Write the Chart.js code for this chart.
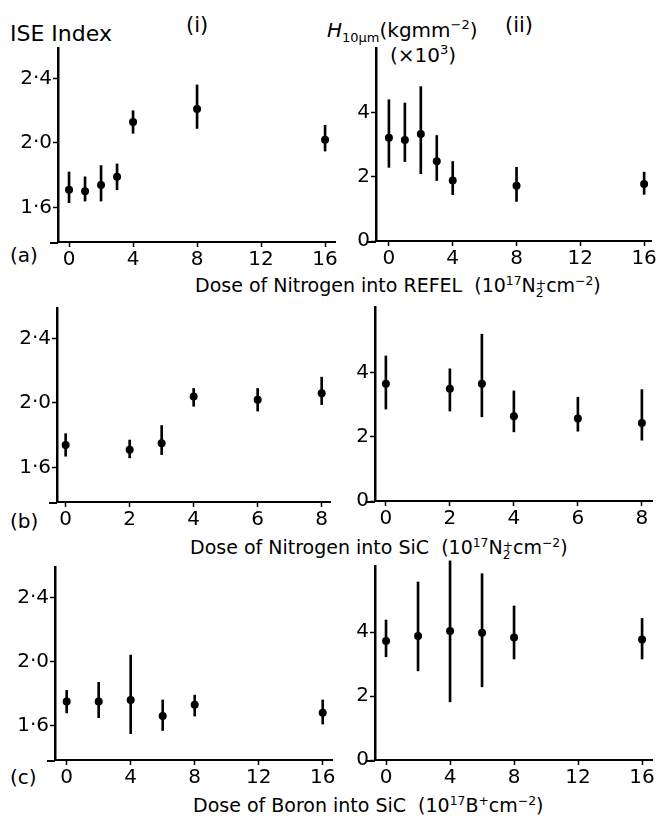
<!DOCTYPE html>
<html><head><meta charset="utf-8">
<script src="https://cdn.jsdelivr.net/npm/chart.js@4.4.0/dist/chart.umd.min.js"></script>
<style>
html,body{margin:0;padding:0;background:#fff;}
body{width:657px;height:823px;position:relative;overflow:hidden;font-family:'DejaVu Sans',sans-serif;color:#000;}
.box{position:absolute;}
.t{position:absolute;white-space:nowrap;line-height:1;}
sup,sub{font-size:65%;line-height:0;}
.ss{display:inline-block;vertical-align:-0.42em;line-height:0.72;font-size:65%;}
.ss span{display:block;}
</style></head><body>

<div class="t" style="left:10px;top:23px;font-size:22px;">ISE Index</div>
<div class="t" style="left:186px;top:15px;font-size:21px;">(i)</div>
<div class="t" style="left:505px;top:15px;font-size:21px;">(ii)</div>
<div class="t" style="left:327px;top:20px;font-size:20px;"><i>H</i><sub>10µm</sub>(kgmm<sup>−2</sup>)</div>
<div class="t" style="left:390px;top:45px;font-size:20px;">(×10<sup>3</sup>)</div>

<div class="t" style="left:10px;top:245px;font-size:20px;">(a)</div>
<div class="t" style="left:10px;top:511px;font-size:20px;">(b)</div>
<div class="t" style="left:10px;top:767px;font-size:20px;">(c)</div>

<div class="t" style="left:195px;top:276px;font-size:19px;">Dose of Nitrogen into REFEL&nbsp;&nbsp;(10<sup>17</sup>N<span class="ss"><span>+</span><span>2</span></span>cm<sup>−2</sup>)</div>
<div class="t" style="left:190px;top:538px;font-size:19px;">Dose of Nitrogen into SiC&nbsp;&nbsp;(10<sup>17</sup>N<span class="ss"><span>+</span><span>2</span></span>cm<sup>−2</sup>)</div>
<div class="t" style="left:193px;top:796px;font-size:19px;">Dose of Boron into SiC&nbsp;&nbsp;(10<sup>17</sup>B<sup>+</sup>cm<sup>−2</sup>)</div>

<script>
// ---- data ----
const doseA = [0, 1, 2, 3, 4, 8, 16];
const iseA   = [1.71, 1.70, 1.74, 1.79, 2.13, 2.21, 2.02];
const iseALo = [1.63, 1.64, 1.64, 1.71, 2.06, 2.09, 1.95];
const iseAHi = [1.82, 1.79, 1.86, 1.87, 2.20, 2.36, 2.11];
const hA   = [3.21, 3.14, 3.33, 2.48, 1.88, 1.72, 1.77];
const hALo = [2.29, 2.47, 2.09, 1.88, 1.44, 1.23, 1.45];
const hAHi = [4.39, 4.29, 4.80, 3.28, 2.47, 2.29, 2.14];

const doseB = [0, 2, 3, 4, 6, 8];
const iseB   = [1.74, 1.71, 1.75, 2.04, 2.02, 2.06];
const iseBLo = [1.67, 1.66, 1.68, 1.98, 1.95, 1.99];
const iseBHi = [1.81, 1.77, 1.86, 2.09, 2.09, 2.16];
const hB   = [3.66, 3.51, 3.66, 2.65, 2.58, 2.44];
const hBLo = [2.87, 2.81, 2.63, 2.16, 2.18, 1.90];
const hBHi = [4.53, 4.13, 5.21, 3.44, 3.24, 3.48];

const doseC = [0, 2, 4, 6, 8, 16];
const iseC   = [1.75, 1.75, 1.76, 1.66, 1.73, 1.68];
const iseCLo = [1.68, 1.65, 1.55, 1.57, 1.66, 1.61];
const iseCHi = [1.82, 1.87, 2.04, 1.76, 1.79, 1.76];
const hC   = [3.72, 3.88, 4.04, 3.98, 3.83, 3.77];
const hCLo = [3.23, 2.79, 1.82, 2.29, 3.16, 3.16];
const hCHi = [4.38, 5.57, 6.23, 5.83, 4.82, 4.43];

const xTicks16 = [0, 4, 8, 12, 16];
const xTicks8 = [0, 2, 4, 6, 8];
const iseTicks = [1.6, 2.0, 2.4];
const hTicks = [0, 2, 4];

// ---- drawing ----
const YW = 50, XH = 34, PT = 14, PR = 6;
Chart.defaults.font.family = "'DejaVu Sans',sans-serif";
Chart.defaults.color = '#000';

// short extension of the x axis line to the left of the y axis
const axisStub = {
  id: 'axisStub',
  afterDraw(chart) {
    const a = chart.chartArea, ctx = chart.ctx;
    ctx.save();
    ctx.strokeStyle = '#000';
    ctx.lineWidth = 2;
    ctx.beginPath();
    ctx.moveTo(a.left - 8, a.bottom + 1);
    ctx.lineTo(a.left, a.bottom + 1);
    ctx.stroke();
    ctx.restore();
  }
};

function panel(area, xs, ys, lo, hi, xr, yr, xt, yt, fmt) {
  const div = document.createElement('div');
  div.className = 'box';
  div.style.left = (area[0] - YW) + 'px';
  div.style.top = (area[2] - PT) + 'px';
  div.style.width = (area[1] - area[0] + YW + PR) + 'px';
  div.style.height = (area[3] - area[2] + PT + XH) + 'px';
  const cv = document.createElement('canvas');
  div.appendChild(cv);
  document.body.appendChild(div);
  const gridCfg = () => ({ display: true, offset: false, drawOnChartArea: false, drawTicks: true, tickLength: 5, tickColor: '#000', tickWidth: 1.5 });
  new Chart(cv, {
    type: 'scatter',
    data: { datasets: [
      { type: 'scatter', data: xs.map((x, i) => ({ x: x, y: ys[i] })), pointRadius: 4, pointBackgroundColor: '#000', pointBorderColor: '#000', pointBorderWidth: 0, order: 0, clip: false },
      { type: 'bar', data: xs.map((x, i) => ({ x: x, y: [lo[i], hi[i]] })), backgroundColor: '#000', borderWidth: 0, barThickness: 2, order: 1, clip: false }
    ]},
    options: {
      responsive: true, maintainAspectRatio: false, animation: false, devicePixelRatio: 1,
      layout: { padding: { top: PT, right: PR, left: 0, bottom: 0 } },
      plugins: { legend: { display: false }, tooltip: { enabled: false } },
      scales: {
        x: {
          type: 'linear', offset: false, min: xr[0], max: xr[1],
          grid: gridCfg(),
          border: { display: true, color: '#000', width: 2 },
          ticks: { font: { size: 20 }, padding: 1, maxRotation: 0, autoSkip: false, color: '#000' },
          afterBuildTicks: s => { s.ticks = xt.map(v => ({ value: v })); },
          afterFit: s => { s.height = XH; }
        },
        y: {
          type: 'linear', offset: false, min: yr[0], max: yr[1],
          grid: gridCfg(),
          border: { display: true, color: '#000', width: 2.5 },
          ticks: { font: { size: 20 }, padding: 1, color: '#000', callback: v => fmt(v) },
          afterBuildTicks: s => { s.ticks = yt.map(v => ({ value: v })); },
          afterFit: s => { s.width = YW; }
        }
      }
    },
    plugins: [axisStub]
  });
}
const fmtIse = v => v.toFixed(1).replace('.', '·');
const fmtH = v => String(v);

panel([58, 335, 48, 242], doseA, iseA, iseALo, iseAHi, [-0.69, 16.62], [1.386, 2.589], xTicks16, iseTicks, fmtIse);
panel([376, 652, 48, 241], doseA, hA, hALo, hAHi, [-0.81, 16.44], [0, 6.0], xTicks16, hTicks, fmtH);
panel([57, 330, 308, 502], doseB, iseB, iseBLo, iseBHi, [-0.27, 8.26], [1.386, 2.589], xTicks8, iseTicks, fmtIse);
panel([375, 652, 307, 501], doseB, hB, hBLo, hBHi, [-0.34, 8.316], [0, 6.06], xTicks8, hTicks, fmtH);
panel([55, 332, 567, 760], doseC, iseC, iseCLo, iseCHi, [-0.73, 16.58], [1.386, 2.589], xTicks16, iseTicks, fmtIse);
panel([375, 652, 566, 760], doseC, hC, hCLo, hCHi, [-0.69, 16.62], [0, 6.07], xTicks16, hTicks, fmtH);
</script>
</body></html>
